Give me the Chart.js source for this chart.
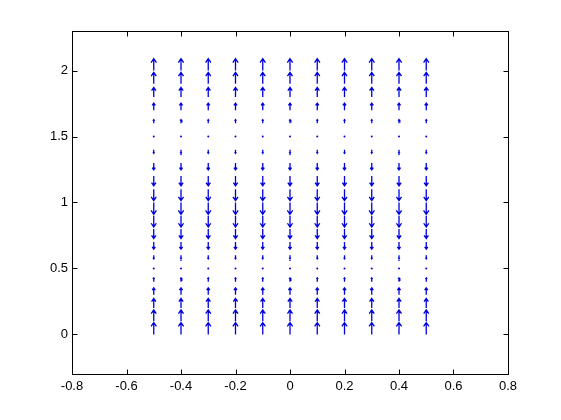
<!DOCTYPE html>
<html>
<head>
<meta charset="utf-8">
<script src="https://cdn.jsdelivr.net/npm/chart.js@4.4.0/dist/chart.umd.min.js"></script>
<style>
  html, body { margin: 0; padding: 0; background: #fff; }
</style>
</head>
<body>
<canvas id="quiverChart" width="561" height="420"></canvas>
<script>
  // grid of arrow tails
  var gridX = [-0.5, -0.4, -0.3, -0.2, -0.1, 0, 0.1, 0.2, 0.3, 0.4, 0.5];
  var gridY = [0, 0.1, 0.2, 0.3, 0.4, 0.5, 0.6, 0.7, 0.8, 0.9, 1.0,
               1.1, 1.2, 1.3, 1.4, 1.5, 1.6, 1.7, 1.8, 1.9, 2.0];
  // vertical velocity at each gridY row (same for every column), horizontal is zero
  var velV = [1, 0.95, 0.81, 0.59, 0.31, 0, -0.31, -0.59, -0.81, -0.95, -1,
              -0.95, -0.81, -0.59, -0.31, 0, 0.31, 0.59, 0.81, 0.95, 1];
  var xTicks = [-0.8, -0.6, -0.4, -0.2, 0, 0.2, 0.4, 0.6, 0.8];
  var yTicks = [0, 0.5, 1, 1.5, 2];

  var arrowScale = 0.09;   // matlab autoscale (0.9 of spacing)
  var headAlpha = 0.33, headBeta = 0.33;

  function buildArrows(){
    var pts = [];
    for (var i = 0; i < gridX.length; i++) {
      for (var j = 0; j < gridY.length; j++) {
        var x = gridX[i], y = gridY[j];
        var v = velV[j] * arrowScale;
        if (v === 0) continue;
        var tip = y + v;
        var hw = headAlpha * headBeta * v;
        var hl = headAlpha * v;
        pts.push({x: x, y: y}, {x: x, y: tip}, {x: x, y: null});
        pts.push({x: x - hw, y: tip - hl}, {x: x, y: tip}, {x: x + hw, y: tip - hl}, {x: x, y: null});
      }
    }
    return pts;
  }

  function buildDots(){
    var pts = [];
    for (var i = 0; i < gridX.length; i++) {
      for (var j = 0; j < gridY.length; j++) {
        if (velV[j] === 0) pts.push({x: gridX[i], y: gridY[j]});
      }
    }
    return pts;
  }

  // box round the axes with inward ticks on all four sides
  var boxPlugin = {
    id: 'matlabBox',
    afterDraw: function(chart){
      var c = chart.ctx, a = chart.chartArea;
      var sx = chart.scales.x, sy = chart.scales.y;
      var L = Math.round(a.left) + 0.5, R = Math.round(a.right) + 0.5;
      var T = Math.round(a.top) + 0.5, B = Math.round(a.bottom) + 0.5;
      var tl = 5;
      c.save();
      c.strokeStyle = '#000';
      c.lineWidth = 1;
      c.strokeRect(L, T, R - L, B - T);
      c.beginPath();
      xTicks.forEach(function(t){
        var px = Math.round(sx.getPixelForValue(t)) + 0.5;
        c.moveTo(px, B); c.lineTo(px, B - tl);
        c.moveTo(px, T); c.lineTo(px, T + tl);
      });
      yTicks.forEach(function(t){
        var py = Math.round(sy.getPixelForValue(t)) + 0.5;
        c.moveTo(L, py); c.lineTo(L + tl, py);
        c.moveTo(R, py); c.lineTo(R - tl, py);
      });
      c.stroke();
      c.restore();
    }
  };

  var tickFont = {family: 'Liberation Sans', size: 13};

  new Chart(document.getElementById('quiverChart'), {
    type: 'scatter',
    data: {
      datasets: [{
        data: buildArrows(),
        showLine: true,
        spanGaps: false,
        borderColor: '#0000dd',
        borderWidth: 1.3,
        pointRadius: 0
      }, {
        data: buildDots(),
        showLine: false,
        pointRadius: 1,
        backgroundColor: '#0000dd',
        borderWidth: 0
      }]
    },
    options: {
      responsive: false,
      animation: false,
      layout: {padding: {left: 0, top: 31, right: 53, bottom: 0}},
      plugins: {legend: {display: false}, tooltip: {enabled: false}},
      scales: {
        x: {
          type: 'linear', min: -0.8, max: 0.8,
          grid: {display: false, drawTicks: false},
          border: {display: false},
          ticks: {color: '#000', font: tickFont, padding: 5, maxRotation: 0,
                  callback: function(v){ return String(v); }},
          afterBuildTicks: function(s){ s.ticks = xTicks.map(function(v){ return {value: v}; }); },
          afterFit: function(s){ s.height = 46; }
        },
        y: {
          type: 'linear', min: -0.3, max: 2.3,
          grid: {display: false, drawTicks: false},
          border: {display: false},
          ticks: {color: '#000', font: tickFont, padding: 4,
                  callback: function(v){ return String(v); }},
          afterBuildTicks: function(s){ s.ticks = yTicks.map(function(v){ return {value: v}; }); },
          afterFit: function(s){ s.width = 72; }
        }
      }
    },
    plugins: [boxPlugin]
  });
</script>
</body>
</html>
